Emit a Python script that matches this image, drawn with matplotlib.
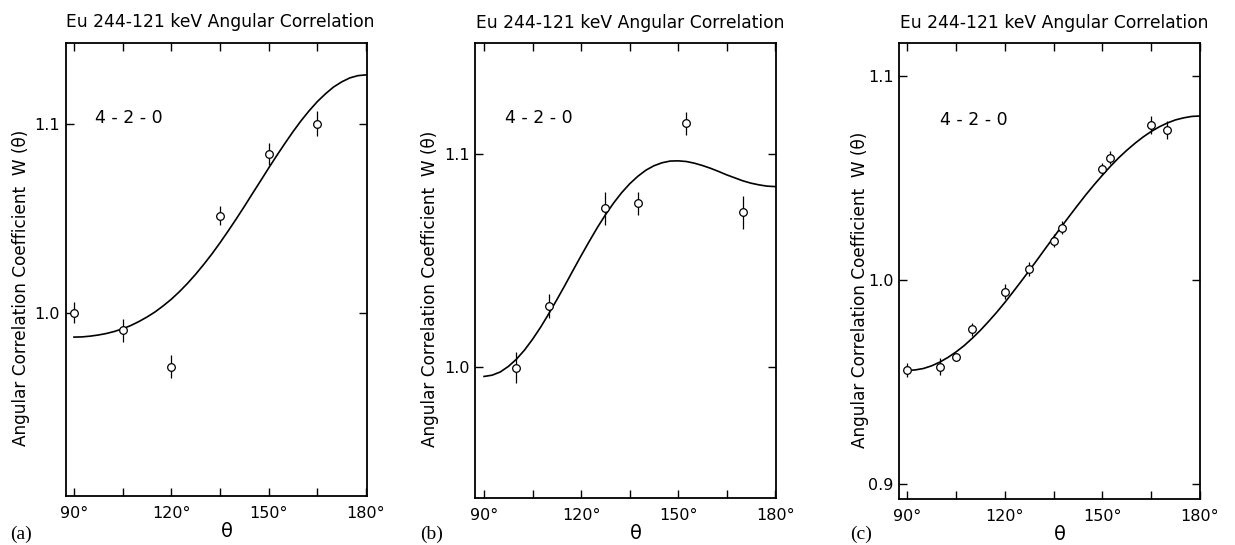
import matplotlib
matplotlib.use('Agg')
import matplotlib.pyplot as plt

theta_a = [90, 105, 120, 135, 150, 165]
w_a = [1.000, 0.9908, 0.9716, 1.0514, 1.0838, 1.100]
err_a = [0.0055, 0.006, 0.006, 0.005, 0.0057, 0.0066]

theta_b = [100, 110, 127.5, 137.5, 152.5, 170]
w_b = [0.9995, 1.0286, 1.0744, 1.0768, 1.1144, 1.0727]
err_b = [0.0074, 0.0055, 0.0078, 0.0053, 0.0054, 0.0078]

theta_c = [90, 100, 105, 110, 120, 127.5, 135, 137.5, 150, 152.5, 165, 170]
w_c = [0.9558, 0.9575, 0.9622, 0.9759, 0.9943, 1.0054, 1.0192, 1.0255,
       1.0544, 1.0598, 1.0760, 1.0735]
err_c = [0.0035, 0.0041, 0.002, 0.0033, 0.0037, 0.0033, 0.0031, 0.0032,
         0.0028, 0.0032, 0.0044, 0.0044]

# fitted curves, read every 2.5 degrees
curve_theta = [90, 92.5, 95, 97.5, 100, 102.5, 105, 107.5, 110, 112.5,
               115, 117.5, 120, 122.5, 125, 127.5, 130, 132.5, 135, 137.5,
               140, 142.5, 145, 147.5, 150, 152.5, 155, 157.5, 160, 162.5,
               165, 167.5, 170, 172.5, 175, 177.5, 180]
curve_a = [0.9872, 0.9873, 0.9877, 0.9883, 0.9891, 0.9902, 0.9916, 0.9933,
           0.9954, 0.9978, 1.0005, 1.0037, 1.0072, 1.0112, 1.0156, 1.0204,
           1.0256, 1.0311, 1.0370, 1.0432, 1.0496, 1.0562, 1.0630, 1.0697,
           1.0765, 1.0831, 1.0895, 1.0957, 1.1015, 1.1068, 1.1116, 1.1157,
           1.1193, 1.1220, 1.1241, 1.1253, 1.1257]
curve_b = [0.9954, 0.9960, 0.9975, 1.0001, 1.0035, 1.0078, 1.0129, 1.0186,
           1.0249, 1.0315, 1.0383, 1.0453, 1.0522, 1.0589, 1.0654, 1.0714,
           1.0769, 1.0818, 1.0860, 1.0895, 1.0924, 1.0945, 1.0959, 1.0967,
           1.0968, 1.0965, 1.0957, 1.0946, 1.0933, 1.0918, 1.0902, 1.0888,
           1.0874, 1.0863, 1.0855, 1.0849, 1.0847]
curve_c = [0.9557, 0.9560, 0.9567, 0.9580, 0.9598, 0.9621, 0.9648, 0.9679,
           0.9715, 0.9754, 0.9797, 0.9842, 0.9890, 0.9941, 0.9993, 1.0046,
           1.0100, 1.0155, 1.0209, 1.0263, 1.0316, 1.0368, 1.0419, 1.0467,
           1.0513, 1.0557, 1.0598, 1.0635, 1.0669, 1.0700, 1.0727, 1.0750,
           1.0769, 1.0784, 1.0794, 1.0801, 1.0803]

x_ticks = [90, 105, 120, 135, 150, 165, 180]
x_labels = ['90°', '', '120°', '', '150°', '', '180°']

title = 'Eu 244-121 keV Angular Correlation'
ylabel = 'Angular Correlation Coefficient  W (θ)'
cascade = '4 - 2 - 0'

panels = [
    dict(rect=[0.0532, 0.0890, 0.2437, 0.8330], th=theta_a, w=w_a, err=err_a,
         curve=curve_a, xlim=(87.45, 180.2), ylim=(0.903, 1.1428),
         yticks=[1.0, 1.1], txt=(96.5, 1.1028), tag='(a)', tagx=10,
         ylx=-0.149),
    dict(rect=[0.3846, 0.0857, 0.2437, 0.8345], th=theta_b, w=w_b, err=err_b,
         curve=curve_b, xlim=(87.2, 180.2), ylim=(0.9381, 1.152),
         yticks=[1.0, 1.1], txt=(96.5, 1.1168), tag='(b)', tagx=420,
         ylx=-0.151),
    dict(rect=[0.7279, 0.0844, 0.2437, 0.8358], th=theta_c, w=w_c, err=err_c,
         curve=curve_c, xlim=(87.45, 180.0), ylim=(0.8928, 1.1158),
         yticks=[0.9, 1.0, 1.1], txt=(100.1, 1.0782), tag='(c)', tagx=850,
         ylx=-0.130),
]

fig = plt.figure(figsize=(12.35, 5.45), dpi=100)

for p in panels:
    ax = fig.add_axes(p['rect'])
    ax.plot(curve_theta, p['curve'], color='black', lw=1.2)
    ax.errorbar(p['th'], p['w'], yerr=p['err'], fmt='o', mfc='white',
                mec='black', ms=5.5, mew=0.9, ecolor='black', elinewidth=0.9,
                capsize=0)
    ax.set_xlim(*p['xlim'])
    ax.set_ylim(*p['ylim'])
    ax.set_xticks(x_ticks, x_labels)
    ax.set_yticks(p['yticks'], [f'{v:.1f}' for v in p['yticks']])
    ax.tick_params(direction='in', length=6, width=1.0, top=True, right=True,
                   labelsize=11.5, pad=7)
    ax.tick_params(axis='y', pad=4)
    for s in ax.spines.values():
        s.set_linewidth(1.3)
    ax.text(0.515, 1.035, title, transform=ax.transAxes, ha='center',
            va='baseline', fontsize=12.3)
    ax.text(p['txt'][0], p['txt'][1], cascade, ha='left', va='center',
            fontsize=12.5)
    ax.text(p['ylx'], 0.46, ylabel, transform=ax.transAxes, rotation=90,
            ha='center', va='center', fontsize=12.2)
    ax.text(0.536, -0.077, 'θ', transform=ax.transAxes, ha='center',
            va='center', fontsize=14)
    fig.text(p['tagx'] / 1235, 1 - 534 / 545, p['tag'], ha='left',
             va='center', fontsize=14, family='Liberation Serif')

fig.savefig('out.png', dpi=100)
